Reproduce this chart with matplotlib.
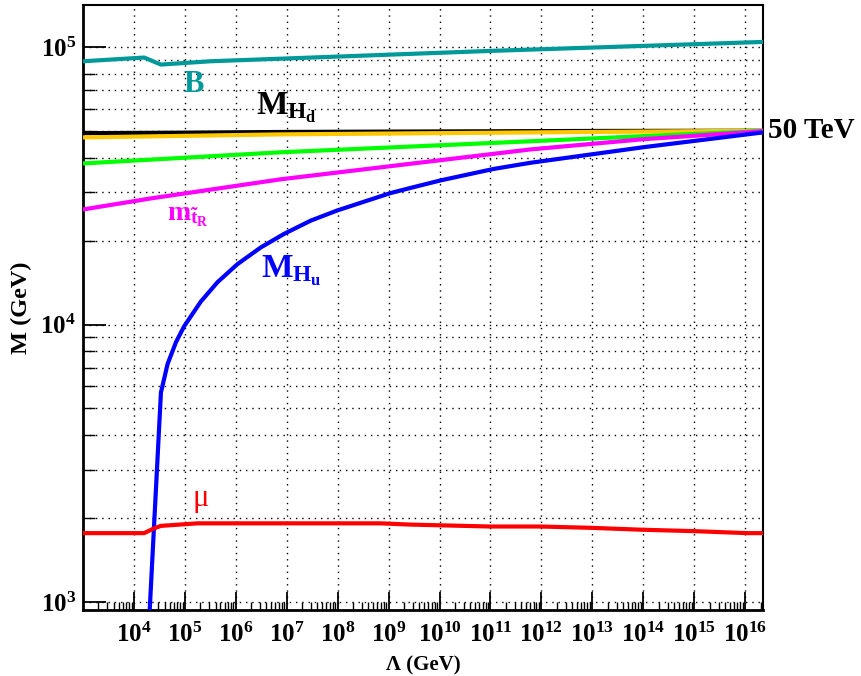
import matplotlib
matplotlib.use("Agg")
import matplotlib.pyplot as plt
import numpy as np
from matplotlib.ticker import FixedLocator, LogLocator, NullFormatter

plt.rcParams['font.family'] = ['Liberation Serif', 'DejaVu Serif']
plt.rcParams['font.weight'] = 'bold'
plt.rcParams['mathtext.fontset'] = 'custom'
plt.rcParams['mathtext.rm'] = 'Liberation Serif:bold'
plt.rcParams['mathtext.it'] = 'Liberation Serif:bold'
plt.rcParams['mathtext.bf'] = 'Liberation Serif:bold'

# log10(Lambda / GeV) and mass (GeV)
b_lam = [3.0, 4.2, 4.53, 5.5, 7.28, 9.0, 11.0, 13.2, 16.35]
b_mass = [8.9e4, 9.18e4, 8.66e4, 8.9e4, 9.15e4, 9.4e4, 9.7e4, 1.0e5, 1.045e5]

hd_lam = [3.0, 5.0, 7.0, 10.0, 13.0, 16.35]
hd_mass = [4.9e4, 4.92e4, 4.95e4, 4.97e4, 4.99e4, 5.0e4]

yel_lam = [3.0, 6.88, 11.78, 16.35]
yel_mass = [4.73e4, 4.85e4, 4.93e4, 5.0e4]

grn_lam = [3.0, 6.88, 11.78, 14.0, 16.35]
grn_mass = [3.81e4, 4.18e4, 4.58e4, 4.78e4, 4.99e4]

mag_lam = [3.0, 4.33, 6.88, 11.78, 14.0, 16.35]
mag_mass = [2.6e4, 2.85e4, 3.34e4, 4.28e4, 4.66e4, 4.98e4]

hu_lam = [4.305, 4.53, 4.661, 4.824, 4.986, 5.314, 5.641, 6.033, 6.49, 6.947, 7.471,
          7.994, 8.516, 9.039, 9.431, 10.02, 11.06, 11.78, 14.0, 16.35]
hu_mass = [900, 5.69e3, 7.21e3, 8.63e3, 9.86e3, 1.211e4, 1.422e4, 1.652e4, 1.897e4, 2.123e4,
           2.37e4, 2.58e4, 2.773e4, 2.98e4, 3.11e4, 3.31e4, 3.64e4, 3.83e4, 4.36e4, 4.93e4]

mu_lam = [3.0, 4.2, 4.39, 4.53, 5.25, 8.84, 9.43, 11.0, 11.98, 12.96, 14.0, 14.98, 16.04, 16.35]
mu_mass = [1.77e3, 1.77e3, 1.84e3, 1.88e3, 1.92e3, 1.92e3, 1.90e3, 1.87e3, 1.87e3,
           1.85e3, 1.82e3, 1.80e3, 1.77e3, 1.77e3]

W, H = 862, 676
fig = plt.figure(figsize=(W / 100, H / 100), dpi=100)
ax = fig.add_axes([83 / W, (H - 610) / H, 680 / W, 605 / H])

lw = 3.0
series = [
    (b_lam, b_mass, '#009999'),
    (hd_lam, hd_mass, 'black'),
    (yel_lam, yel_mass, '#ffc800'),
    (grn_lam, grn_mass, '#00ff00'),
    (mag_lam, mag_mass, '#ff00ff'),
    (hu_lam, hu_mass, '#0000ff'),
    (mu_lam, mu_mass, '#ff0000'),
]
for lam, m, c in series:
    ax.plot(10.0 ** np.array(lam), m, color=c, lw=lw, solid_capstyle='butt',
            solid_joinstyle='round', zorder=3)

ax.set_xscale('log')
ax.set_yscale('log')
ax.set_xlim(1e3, 10 ** 16.35)
ax.set_ylim(935, 1.42e5)

ax.xaxis.set_major_locator(FixedLocator([10.0 ** k for k in range(4, 17)]))
ax.xaxis.set_minor_locator(LogLocator(base=10, subs=np.arange(2, 10), numticks=40))
ax.xaxis.set_minor_formatter(NullFormatter())
ax.yaxis.set_major_locator(FixedLocator([1e3, 1e4, 1e5]))
ax.yaxis.set_minor_locator(LogLocator(base=10, subs=np.arange(2, 10), numticks=20))
ax.yaxis.set_minor_formatter(NullFormatter())

ax.tick_params(axis='x', which='major', direction='in', length=13, width=1.3,
               labelsize=18, pad=9, top=False)
ax.tick_params(axis='x', which='minor', direction='in', length=6, width=1.0, top=False)
ax.tick_params(axis='y', which='major', direction='in', length=16.5, width=1.3,
               labelsize=18, pad=5, right=False)
ax.tick_params(axis='y', which='minor', direction='in', length=8.5, width=1.0, right=False)

dots = (0, (1, 3.5))
ax.grid(True, which='major', axis='x', color='black', lw=1.0, ls=dots)
ax.grid(True, which='both', axis='y', color='black', lw=1.0, ls=dots)
ax.set_axisbelow(True)

for s in ['left', 'bottom']:
    ax.spines[s].set_linewidth(2.0)
for s in ['top', 'right']:
    ax.spines[s].set_linewidth(1.5)

ax.set_xlabel('Λ (GeV)', fontsize=15, fontweight='bold', labelpad=6)
ax.set_ylabel('M (GeV)', fontsize=17.5, fontweight='bold', labelpad=6)

ax.text(10 ** 5.18, 7.35e4, 'B', color='#009999', fontsize=22, ha='center', va='center')
ax.text(10 ** 6.39, 5.69e4, r'$M_{H_d}$', color='black', fontsize=24, ha='left', va='baseline')
ax.text(10 ** 4.65, 2.37e4, r'$m_{\tilde{t}_R}$', color='#ff00ff', fontsize=20, ha='left', va='baseline')
ax.text(10 ** 6.49, 1.48e4, r'$M_{H_u}$', color='#0000ff', fontsize=24, ha='left', va='baseline')
ax.text(10 ** 5.31, 2.22e3, 'μ', color='#ff0000', fontsize=22, fontweight='normal',
        ha='center', va='baseline')
fig.text(768 / W, 1 - 130 / H, '50 TeV', fontsize=21, fontweight='bold', ha='left', va='center')

fig.savefig('out.png', dpi=100)
